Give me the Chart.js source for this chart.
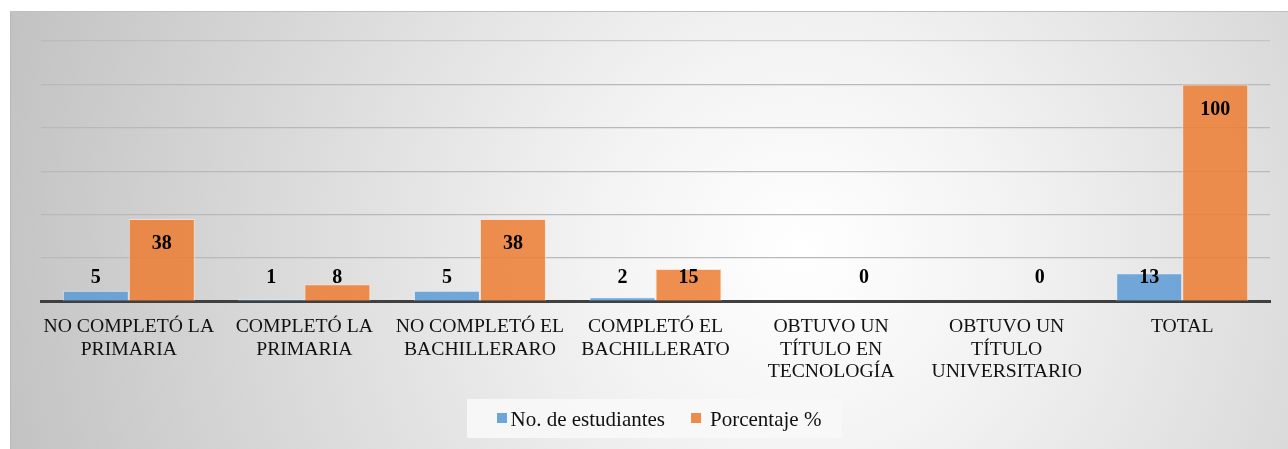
<!DOCTYPE html>
<html>
<head>
<meta charset="utf-8">
<script src="https://cdn.jsdelivr.net/npm/chart.js@4.4.1/dist/chart.umd.min.js"></script>
<style>
  html, body { margin: 0; padding: 0; background: #ffffff; }
  #wrap { position: relative; width: 1288px; height: 449px; overflow: hidden; }
  #bg { position: absolute; left: 10px; top: 11px; width: 1278px; height: 438px; box-sizing: border-box;
        border-left: 1px solid #b8b8b8; border-top: 1px solid #c0c0c0;
        background: radial-gradient(circle farthest-corner at 790px 240px, #ffffff 0%, #f3f3f3 25%, #c2c2c2 100%); }
  #c { position: absolute; left: 0; top: 0; }
</style>
</head>
<body>
<div id="wrap">
  <div id="bg"></div>
  <canvas id="c" width="1288" height="449"></canvas>
</div>
<script>
const categories = [
  ["NO COMPLETÓ LA", "PRIMARIA"],
  ["COMPLETÓ LA", "PRIMARIA"],
  ["NO COMPLETÓ EL", "BACHILLERARO"],
  ["COMPLETÓ EL", "BACHILLERATO"],
  ["OBTUVO UN", "TÍTULO EN", "TECNOLOGÍA"],
  ["OBTUVO UN", "TÍTULO", "UNIVERSITARIO"],
  ["TOTAL"]
];
const estudiantes = [5, 1, 5, 2, 0, 0, 13];
const porcentaje = [38, 8, 38, 15, 0, 0, 100];
const seriesNames = ["No. de estudiantes", "Porcentaje %"];
const yTicks = [0, 20, 40, 60, 80, 100, 120];

const SERIF = '"Liberation Serif", "Times New Roman", serif';
const blueFill = 'rgba(91,155,213,0.85)';
const orangeFill = 'rgba(237,125,49,0.85)';
const legendColors = ['#6ea5d8', '#ee8a4a'];

const dataLabels = {
  id: 'dataLabels',
  afterDatasetsDraw(chart) {
    const ctx = chart.ctx;
    const zeroY = chart.scales.y.getPixelForValue(0);
    ctx.save();
    ctx.font = 'bold 20px ' + SERIF;
    ctx.fillStyle = '#000000';
    ctx.textAlign = 'center';
    ctx.textBaseline = 'middle';
    chart.data.datasets.forEach((ds, i) => {
      const meta = chart.getDatasetMeta(i);
      meta.data.forEach((bar, j) => {
        const v = ds.data[j];
        if (i === 0 && v === 0) return;
        const y = Math.min(bar.y + 25, zeroY - 23.5);
        ctx.fillText(String(v), bar.x, y);
      });
    });
    ctx.restore();
  }
};

const boxLegend = {
  id: 'boxLegend',
  afterDraw(chart) {
    const ctx = chart.ctx;
    ctx.save();
    ctx.fillStyle = 'rgba(248,248,248,0.95)';
    ctx.fillRect(467, 399, 375, 39);
    ctx.font = '21px ' + SERIF;
    ctx.textBaseline = 'middle';
    ctx.textAlign = 'left';
    const sq = 10;
    const gapAfterSq = [3.5, 9];
    let x = 497;
    chart.data.datasets.forEach((d, i) => {
      ctx.fillStyle = legendColors[i];
      ctx.fillRect(x, 413, sq, sq);
      x += sq + gapAfterSq[i];
      ctx.fillStyle = '#111111';
      ctx.fillText(d.label, x, 420.5);
      x += ctx.measureText(d.label).width + 26;
    });
    ctx.restore();
  }
};

new Chart(document.getElementById('c'), {
  type: 'bar',
  data: {
    labels: categories,
    datasets: [
      { label: seriesNames[0], data: estudiantes, backgroundColor: blueFill,
        borderColor: 'rgba(225,238,250,0.8)', borderWidth: 1 },
      { label: seriesNames[1], data: porcentaje, backgroundColor: orangeFill,
        borderColor: 'rgba(250,225,205,0.8)', borderWidth: 1 }
    ]
  },
  options: {
    responsive: false,
    animation: false,
    devicePixelRatio: 1,
    layout: { padding: { left: 41, right: 18, top: 41, bottom: 0 } },
    datasets: { bar: { categoryPercentage: 0.752, barPercentage: 1.0 } },
    plugins: { legend: { display: false }, tooltip: { enabled: false } },
    scales: {
      x: {
        afterFit(s) { s.height = 147.5; },
        grid: { display: false, drawTicks: false },
        border: { display: true, color: '#404040', width: 3 },
        ticks: {
          color: '#111111', padding: 14.5, maxRotation: 0, minRotation: 0, autoSkip: false,
          font: { family: SERIF, size: 19.7, lineHeight: 1.14 }
        }
      },
      y: {
        min: 0, max: 120,
        afterFit(s) { s.width = 0; },
        afterBuildTicks(s) { s.ticks = yTicks.map(v => ({ value: v })); },
        ticks: { display: false },
        border: { display: false },
        grid: {
          drawTicks: false,
          lineWidth: 1.3,
          color(ctx) {
            const v = ctx.tick && ctx.tick.value;
            if (v === 0) return 'rgba(0,0,0,0)';
            if (v === 120) return 'rgba(180,180,180,0.6)';
            return '#b9b9b9';
          }
        }
      }
    }
  },
  plugins: [dataLabels, boxLegend]
});
</script>
</body>
</html>
